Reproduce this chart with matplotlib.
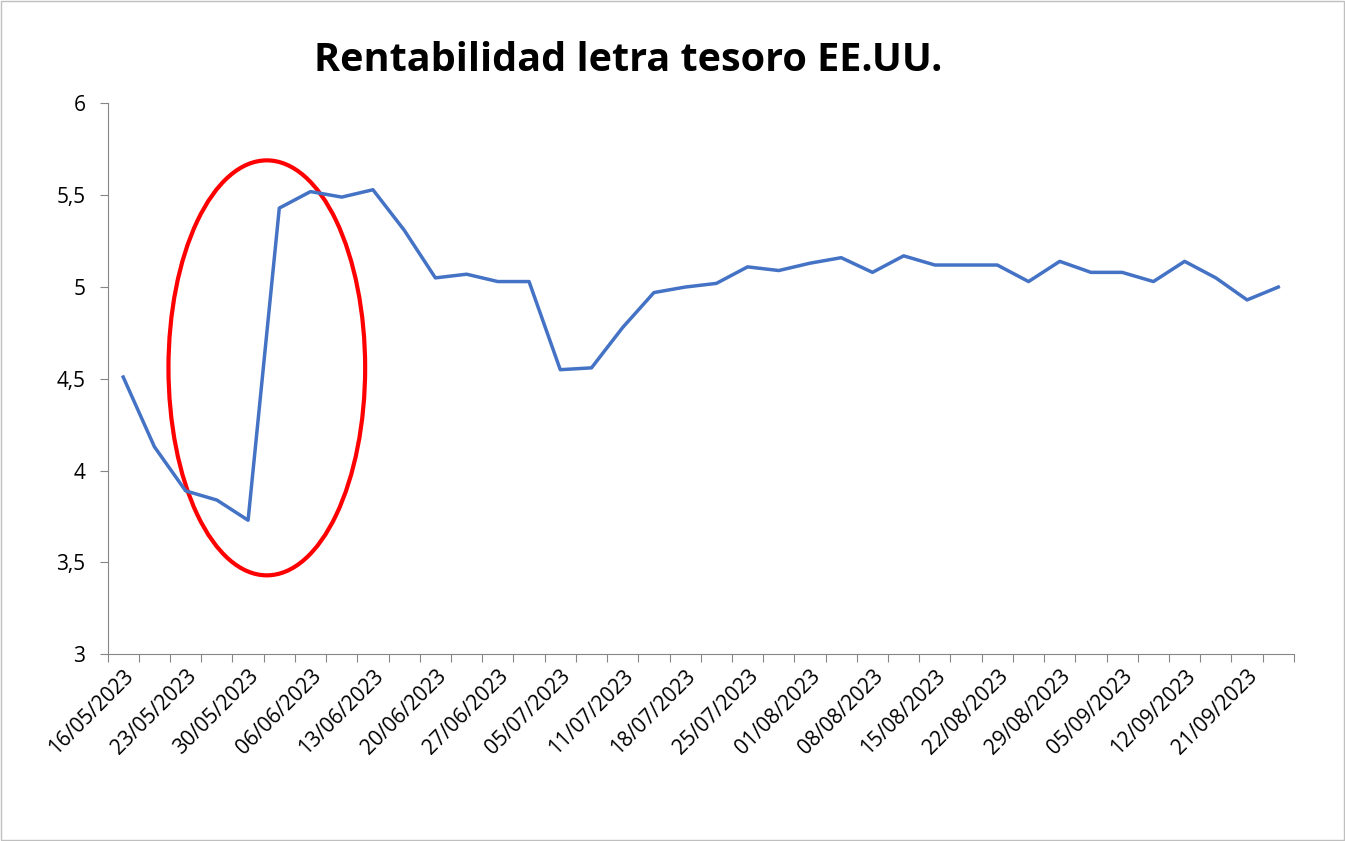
import matplotlib.pyplot as plt
from matplotlib.patches import Ellipse, Rectangle

# Datos (rentabilidad %)
etiquetas = ['16/05/2023', '23/05/2023', '30/05/2023', '06/06/2023', '13/06/2023',
             '20/06/2023', '27/06/2023', '05/07/2023', '11/07/2023', '18/07/2023',
             '25/07/2023', '01/08/2023', '08/08/2023', '15/08/2023', '22/08/2023',
             '29/08/2023', '05/09/2023', '12/09/2023', '21/09/2023']
rentabilidad = [4.51, 4.13, 3.89, 3.84, 3.73, 5.43, 5.52, 5.49, 5.53, 5.31,
                5.05, 5.07, 5.03, 5.03, 4.55, 4.56, 4.78, 4.97, 5.00, 5.02,
                5.11, 5.09, 5.13, 5.16, 5.08, 5.17, 5.12, 5.12, 5.12, 5.03,
                5.14, 5.08, 5.08, 5.03, 5.14, 5.05, 4.93, 5.00]

plt.rcParams['font.family'] = 'Open Sans'
fig = plt.figure(figsize=(13.45, 8.41), dpi=100)
fig.patches.append(Rectangle((0.001, 0.001), 0.998, 0.998, transform=fig.transFigure,
                             fill=False, edgecolor='#bfbfbf', linewidth=1))
ax = fig.add_axes([0.080, 0.222, 0.882, 0.655])

x = list(range(len(rentabilidad)))
ax.plot(x, rentabilidad, color='#4472c4', linewidth=2.5)

# elipse roja marcando el salto
ax.add_patch(Ellipse((4.6, 4.56), 6.3, 2.26, fill=False, edgecolor='red', linewidth=3))

ax.set_xlim(-0.5, len(rentabilidad) - 0.5)
ax.set_ylim(3, 6)
ax.set_xticks([i - 0.5 for i in range(len(rentabilidad) + 1)])
ax.set_xticklabels([])
ax.set_xticks(list(range(0, len(rentabilidad), 2)), minor=True)
ax.set_xticklabels(etiquetas, minor=True, rotation=45, ha='right',
                   rotation_mode='anchor', fontsize=15)
ax.tick_params(axis='x', which='minor', length=0, pad=8)
ax.tick_params(axis='x', which='major', length=6, color='#868686')

yt = [3, 3.5, 4, 4.5, 5, 5.5, 6]
ax.set_yticks(yt)
ax.set_yticklabels([str(v).replace('.', ',').replace(',0', '') for v in yt], fontsize=15)
ax.tick_params(axis='y', length=6, color='#868686', pad=10)

for s in ['top', 'right']:
    ax.spines[s].set_visible(False)
for s in ['left', 'bottom']:
    ax.spines[s].set_color('#868686')

fig.text(0.467, 0.928, 'Rentabilidad letra tesoro EE.UU.', ha='center', va='center',
         fontsize=28.5, fontweight='bold')

fig.savefig('out.png', dpi=100)
